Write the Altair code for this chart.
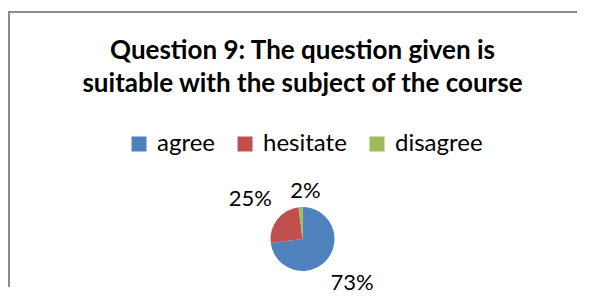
import altair as alt
import pandas as pd

categories = ["agree", "hesitate", "disagree"]
values = [73, 25, 2]
colors = ["#4F81BD", "#C0504D", "#9BBB59"]
title_lines = ["Question 9: The question given is", "suitable with the subject of the course"]

df = pd.DataFrame({"category": categories, "value": values})

order_expr = "indexof(" + str(categories).replace("'", '"') + ", datum.category)"

base = alt.Chart(df).transform_calculate(
    idx=order_expr,
    label="datum.value + '%'",
    lr="datum.value < 5 ? 48 : 66",
)

W, H = 579, 289
cx = 294.5
cy = 231

arcs = base.mark_arc(outerRadius=32).encode(
    theta=alt.Theta("value:Q", stack=True),
    color=alt.Color(
        "category:N",
        sort=categories,
        scale=alt.Scale(domain=categories, range=colors),
        legend=alt.Legend(
            title=None,
            orient="none",
            direction="horizontal",
            legendX=119,
            legendY=124,
            symbolType="square",
            symbolSize=225,
            symbolStrokeWidth=0,
            labelFont="Lato",
            labelFontSize=24,
            labelColor="#000000",
            labelOffset=6,
            columnPadding=18,
        ),
    ),
    order=alt.Order("idx:Q"),
    x=alt.value(cx),
    y=alt.value(cy),
)

labels = base.mark_text(font="Lato", fontSize=22, color="#000000", align="center", baseline="middle").encode(
    theta=alt.Theta("value:Q", stack=True),
    radius=alt.Radius("lr:Q", scale=None),
    text="label:N",
    order=alt.Order("idx:Q"),
    x=alt.value(cx),
    y=alt.value(cy),
)

border_data = alt.Data(values=[{}])
top_edge = alt.Chart(border_data).mark_rule(stroke="#8a8a8a", strokeWidth=2).encode(
    x=alt.value(0), x2=alt.value(W - 10), y=alt.value(4)
)
left_edge = alt.Chart(border_data).mark_rule(stroke="#8a8a8a", strokeWidth=2).encode(
    x=alt.value(1), y=alt.value(3), y2=alt.value(H - 10)
)

chart = alt.layer(top_edge, left_edge, arcs, labels).properties(
    width=W,
    height=H,
    autosize=alt.AutoSizeParams(type="none"),
    padding=0,
    title=alt.TitleParams(
        text=title_lines,
        font="Lato",
        fontSize=26,
        fontWeight="bold",
        color="#000000",
        anchor="middle",
        baseline="top",
        offset=-89,
        lineHeight=33,
        dx=5,
    ),
).configure_view(strokeWidth=0, stroke="transparent")

chart.save("out.html", embed_options={"renderer": "svg", "actions": False})
